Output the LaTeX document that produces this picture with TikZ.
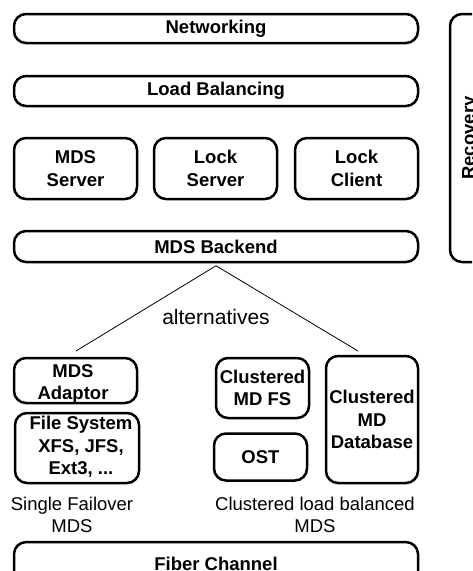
\documentclass[tikz,border=0pt]{standalone}
\usepackage{fontspec}
\setmainfont{Liberation Sans}
\begin{document}
\begin{tikzpicture}[x=1pt,y=-1pt,
  layer/.style={draw, line width=2.5pt, rounded corners=12pt, inner sep=0pt,
    align=center, font=\fontsize{18.5}{22.5}\selectfont\bfseries},
  plain/.style={inner sep=0pt, align=center, font=\fontsize{18.5}{22.5}\selectfont},
  boldtext/.style={inner sep=0pt, align=center, font=\fontsize{18.5}{22.5}\selectfont\bfseries},
  branch/.style={draw, line width=0.8pt}]
\path[use as bounding box] (0,0) rectangle (472,571);
\clip (0,0) rectangle (472,571);

% upper stack
\node[layer, minimum width=404pt, minimum height=29pt] (net) at (216,28.5) {Networking};
\node[layer, minimum width=404pt, minimum height=30pt] (lb) at (216,91) {Load Balancing};
\node[layer, minimum width=123pt, minimum height=61pt] (mdss) at (75.5,168.5) {MDS\\Server};
\node[layer, minimum width=123pt, minimum height=61pt] (locks) at (215.5,168.5) {Lock\\Server};
\node[layer, minimum width=123pt, minimum height=61pt] (lockc) at (356.5,168.5) {Lock\\Client};
\node[layer, minimum width=404pt, minimum height=31pt] (backend) at (216,246.5) {MDS Backend};

% recovery column on the right
\node[layer, minimum width=60pt, minimum height=248pt] (recbox) at (480,138) {};
\node[boldtext, rotate=90] (rec) at (470.4,138) {Recovery};

% alternatives
\coordinate (apex) at ([yshift=-2.5pt]backend.south);
\coordinate (leftend) at (76,351);
\coordinate (rightend) at (358,351);
\draw[branch] (apex) -- (leftend);
\draw[branch] (apex) -- (rightend);
\node[plain, font=\fontsize{21}{25}\selectfont] (alt) at (216,317) {alternatives};

% single failover variant
\node[layer, minimum width=123pt, minimum height=45pt] (adaptor) at (75.5,380.5) {};
\node[boldtext] (adaptortext) at (73,384) {MDS\\Adaptor};
\node[layer, minimum width=124pt, minimum height=70pt] (fs) at (77,448) {};
\node[boldtext] (fstext) at (81,447) {File System\\XFS, JFS,\\Ext3, ...};
\node[plain] (single) at (72,514.8) {Single Failover\\MDS};

% clustered variant
\node[layer, minimum width=93pt, minimum height=60pt] (cmdfs) at (262.5,388) {Clustered\\MD FS};
\node[layer, minimum width=93pt, minimum height=47pt] (ost) at (260.5,457) {OST};
\node[layer, minimum width=92pt, minimum height=127pt] (cmddb) at (372,419.5) {Clustered\\MD\\Database};
\node[plain] (clustered) at (315,514.8) {Clustered load balanced\\MDS};

% storage
\node[layer, minimum width=404pt, minimum height=43pt] (fiber) at (216,563.6) {Fiber Channel};
\end{tikzpicture}
\end{document}
